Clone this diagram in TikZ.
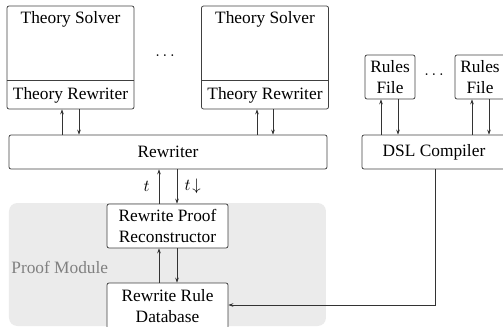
\documentclass[tikz,border=0pt]{standalone}
\usepackage{fontspec}
\setmainfont{Liberation Serif}
\usetikzlibrary{arrows.meta}
\begin{document}
\begin{tikzpicture}[x=0.6pt,y=-0.6pt,
  font=\fontsize{10.4}{12.5}\selectfont,
  line width=0.45pt,
  box/.style={draw=black!75, rounded corners=1.2pt, inner sep=0pt, align=center},
  plain/.style={inner sep=0pt, align=center},
  arr/.style={draw=black!80, -{Stealth[length=3pt,width=2.2pt]}},
  link/.style={draw=black!80}]
\useasboundingbox (0,0) rectangle (503,327);
\clip (0,0) rectangle (503,327);

% proof module background
\fill[black!8, rounded corners=5pt] (9,203) rectangle (326,326);
\node[plain, anchor=west, text=black!50] (pm) at (11,267) {Proof Module};

% theory solvers with their rewriters
\node[box, minimum width=127*0.6pt, minimum height=103*0.6pt] (ts1) at (70.5,57.5) {};
\node[plain, anchor=north] (ts1t) at (70.5,11) {Theory Solver};
\node[plain, minimum width=127*0.6pt, minimum height=28*0.6pt] (tr1) at (70.5,95) {Theory Rewriter};
\draw[draw=black!75] (tr1.north west) -- (tr1.north east);

\node[box, minimum width=127*0.6pt, minimum height=103*0.6pt] (ts2) at (265,57.5) {};
\node[plain, anchor=north] (ts2t) at (265,11) {Theory Solver};
\node[plain, minimum width=127*0.6pt, minimum height=28*0.6pt] (tr2) at (265,95) {Theory Rewriter};
\draw[draw=black!75] (tr2.north west) -- (tr2.north east);

\node[plain] (dots1) at (165,56) {$\dots$};

% rewriter and DSL compiler
\node[box, minimum width=318*0.6pt, minimum height=34*0.6pt] (rw) at (168,152) {Rewriter};
\node[box, minimum width=144*0.6pt, minimum height=34*0.6pt] (dsl) at (434,152) {DSL Compiler};

% rules files
\node[box, minimum width=50*0.6pt, minimum height=44*0.6pt] (rf1) at (390,77) {Rules\\File};
\node[box, minimum width=50*0.6pt, minimum height=44*0.6pt] (rf2) at (480,77) {Rules\\File};
\node[plain] (dots2) at (434,75) {$\dots$};

% proof module boxes
\node[box, fill=white, minimum width=121*0.6pt, minimum height=44*0.6pt] (rpr) at (167.5,226) {Rewrite Proof\\Reconstructor};
\node[box, fill=white, minimum width=121*0.6pt, minimum height=46*0.6pt] (rrd) at (167.5,306) {Rewrite Rule\\Database};

% arrow positions
\coordinate (a1) at (62,0);   \coordinate (b1) at (79,0);
\coordinate (a2) at (257,0);  \coordinate (b2) at (273,0);
\coordinate (a3) at (381,0);  \coordinate (b3) at (398,0);
\coordinate (a4) at (472,0);  \coordinate (b4) at (489,0);
\coordinate (a5) at (159,0);  \coordinate (b5) at (177,0);
\coordinate (c1) at (435,305);

\draw[arr] (rw.north -| a1) -- (tr1.south -| a1);
\draw[arr] (tr1.south -| b1) -- (rw.north -| b1);
\draw[arr] (rw.north -| a2) -- (tr2.south -| a2);
\draw[arr] (tr2.south -| b2) -- (rw.north -| b2);
\draw[arr] (dsl.north -| a3) -- (rf1.south -| a3);
\draw[arr] (rf1.south -| b3) -- (dsl.north -| b3);
\draw[arr] (dsl.north -| a4) -- (rf2.south -| a4);
\draw[arr] (rf2.south -| b4) -- (dsl.north -| b4);

\draw[arr] (rpr.north -| a5) -- node[left=2pt] {$t$} (rw.south -| a5);
\draw[arr] (rw.south -| b5) -- node[right=1pt] {$t\!\downarrow$} (rpr.north -| b5);
\draw[arr] (rrd.north -| a5) -- (rpr.south -| a5);
\draw[arr] (rpr.south -| b5) -- (rrd.north -| b5);

\draw[arr] (dsl.south -| c1) -- (c1) -- (rrd.east |- c1);
\end{tikzpicture}
\end{document}
